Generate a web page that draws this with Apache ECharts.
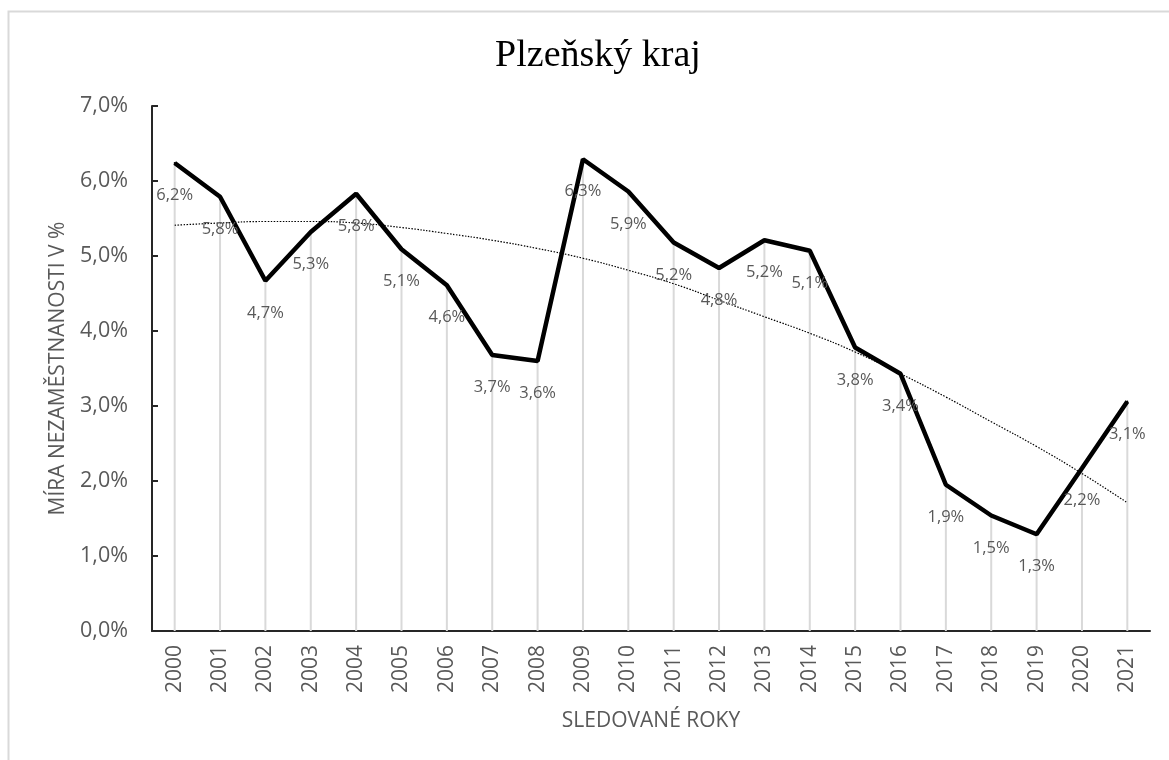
<!DOCTYPE html>
<html>
<head>
<meta charset="utf-8">
<script src="https://cdn.jsdelivr.net/npm/echarts@6/dist/echarts.min.js"></script>
<style>
html,body{margin:0;padding:0;background:#fff;}
#c{width:1169px;height:760px;}
</style>
</head>
<body>
<div id="c"></div>
<script>
const years = ['2000','2001','2002','2003','2004','2005','2006','2007','2008','2009','2010','2011','2012','2013','2014','2015','2016','2017','2018','2019','2020','2021'];
const rate = [6.24,5.79,4.67,5.32,5.83,5.09,4.61,3.68,3.60,6.29,5.86,5.18,4.84,5.21,5.07,3.78,3.43,1.95,1.54,1.29,2.17,3.06];
const trend = [5.41,5.44,5.46,5.46,5.44,5.38,5.30,5.21,5.10,4.97,4.81,4.63,4.41,4.19,3.97,3.72,3.43,3.12,2.79,2.46,2.10,1.71];
const yTicks = [0,1,2,3,4,5,6,7];

const fmt = v => v.toFixed(1).replace('.', ',') + '%';
const sans = '"Open Sans", "Noto Sans", sans-serif';

const chart = echarts.init(document.getElementById('c'), null, {renderer:'canvas'});
chart.setOption({
  animation:false,
  backgroundColor:'#fff',
  title:{
    text:'Plzeňský kraj',
    left:593, top:32, textAlign:'center',
    textStyle:{fontFamily:'"Liberation Serif", "Times New Roman", serif', fontSize:38, fontWeight:'normal', color:'#000'}
  },
  graphic:[{
    type:'rect', silent:true, z:-10,
    shape:{x:8.5, y:11.5, width:1300, height:900},
    style:{fill:'none', stroke:'#d9d9d9', lineWidth:2}
  }],
  grid:{left:152, right:19, top:106, bottom:129},
  xAxis:{
    type:'category', data:years, boundaryGap:true,
    name:'SLEDOVANÉ ROKY', nameLocation:'middle', nameGap:80,
    nameTextStyle:{fontFamily:sans, fontSize:21, color:'#595959'},
    axisLine:{lineStyle:{color:'#262626', width:2}},
    axisTick:{show:false},
    axisLabel:{rotate:90, margin:14, fontFamily:sans, fontSize:21, color:'#595959'},
    splitLine:{show:false}
  },
  yAxis:{
    type:'value', min:yTicks[0], max:yTicks[yTicks.length-1], interval:1,
    name:'MÍRA NEZAMĚSTNANOSTI V %', nameLocation:'middle', nameGap:83,
    nameTextStyle:{fontFamily:sans, fontSize:21, color:'#595959'},
    axisLine:{show:true, lineStyle:{color:'#262626', width:2}},
    axisTick:{show:true, inside:true, length:6, lineStyle:{color:'#262626', width:2}},
    axisLabel:{margin:24, fontFamily:sans, fontSize:21.5, color:'#595959', formatter:fmt},
    splitLine:{show:false}
  },
  series:[
    {
      type:'bar', data:rate, barWidth:2, silent:true, z:1,
      itemStyle:{color:'#d9d9d9'}
    },
    {
      type:'line', data:trend, smooth:true, symbol:'none', z:2,
      lineStyle:{color:'#000', width:1.2, type:[1.5,1.5]}
    },
    {
      type:'line', data:rate, z:3,
      symbol:'circle', symbolSize:2, itemStyle:{color:'#000'},
      lineStyle:{color:'#000', width:4.5},
      label:{show:true, position:'bottom', distance:23, fontFamily:sans, fontSize:16.5, color:'#595959',
        formatter:p => fmt(p.value)}
    }
  ]
});
</script>
</body>
</html>
